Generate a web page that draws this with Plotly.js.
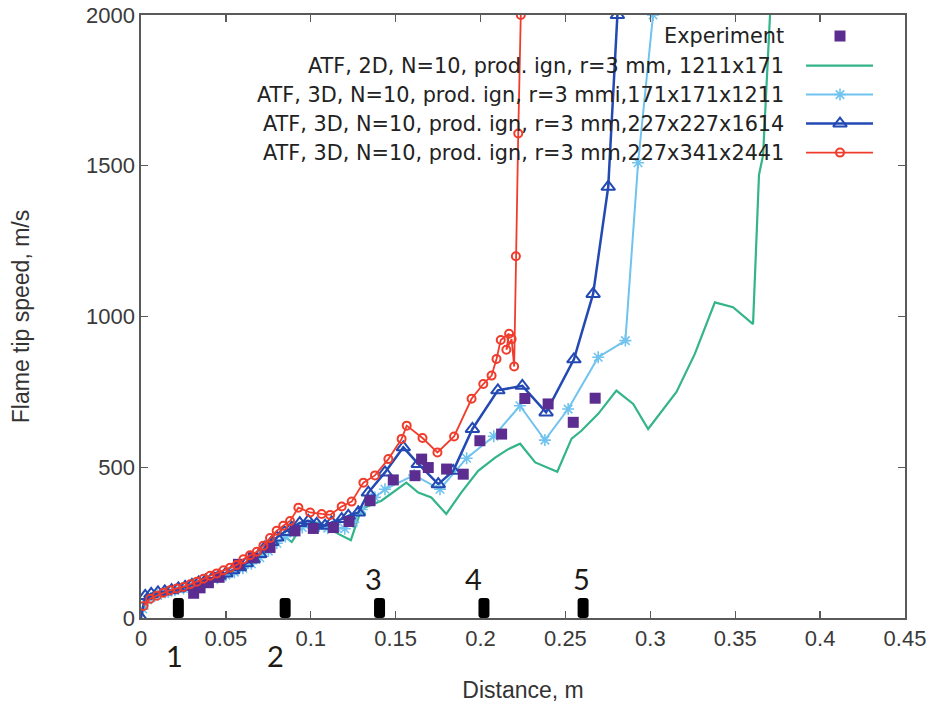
<!DOCTYPE html>
<html>
<head>
<meta charset="utf-8">
<script src="https://cdn.plot.ly/plotly-3.0.1.min.js"></script>
<style>html,body{margin:0;padding:0;background:#fff;}#chart{width:928px;height:703px;}</style>
</head>
<body>
<div id="chart"></div>
<script>
// ---------------- data ----------------
const expX = [0.031, 0.0348, 0.0397, 0.046, 0.0574, 0.066, 0.076, 0.0907, 0.1015, 0.1133, 0.1225, 0.1349, 0.1486, 0.1614, 0.1653, 0.1692, 0.18, 0.1898, 0.1996, 0.2124, 0.2261, 0.2398, 0.2546, 0.2675];
const expY = [82, 100, 117, 135, 178, 200, 234, 289, 297, 300, 320, 389, 458, 472, 527, 499, 494, 477, 588, 610, 728, 710, 649, 729];

const atf2dX = [0.001, 0.005, 0.01, 0.015, 0.02, 0.025, 0.03, 0.035, 0.04, 0.045, 0.05, 0.055, 0.06, 0.065, 0.07, 0.075, 0.08, 0.085, 0.0888, 0.093, 0.1, 0.105, 0.11, 0.1162, 0.1236, 0.1298, 0.1416, 0.1496, 0.1563, 0.1633, 0.171, 0.1798, 0.1886, 0.1986, 0.2086, 0.2163, 0.2233, 0.2322, 0.2452, 0.2536, 0.2594, 0.2693, 0.280, 0.2899, 0.2987, 0.3154, 0.3262, 0.338, 0.3487, 0.3605, 0.3640, 0.3664, 0.3705];
const atf2dY = [25, 60, 72, 82, 90, 97, 105, 112, 122, 132, 143, 155, 168, 185, 205, 225, 250, 268, 252, 290, 318, 316, 300, 279, 258, 362, 389, 422, 449, 416, 400, 345, 416, 488, 532, 560, 578, 516, 485, 595, 621, 677, 754, 710, 627, 750, 876, 1047, 1031, 975, 1470, 1535, 2000];

const atf3dSX = [0.001, 0.004, 0.008, 0.012, 0.016, 0.02, 0.025, 0.03, 0.035, 0.04, 0.045, 0.05, 0.055, 0.06, 0.065, 0.07, 0.075, 0.08, 0.085, 0.09, 0.095, 0.1, 0.105, 0.11, 0.115, 0.12, 0.125, 0.13, 0.1378, 0.1437, 0.1609, 0.1761, 0.1918, 0.2078, 0.2232, 0.2379, 0.2516, 0.2693, 0.2853, 0.2928, 0.3016];
const atf3dSY = [30, 60, 72, 80, 86, 92, 98, 106, 115, 122, 132, 142, 152, 165, 180, 200, 222, 248, 270, 288, 300, 312, 305, 298, 300, 296, 318, 360, 400, 427, 474, 427, 530, 603, 704, 590, 693, 865, 920, 1510, 2000];

const atf3dMX = [0, 0.0025, 0.006, 0.01, 0.014, 0.018, 0.022, 0.026, 0.03, 0.034, 0.038, 0.042, 0.046, 0.05, 0.054, 0.058, 0.062, 0.066, 0.07, 0.073, 0.077, 0.08, 0.0844, 0.0888, 0.0935, 0.0986, 0.1035, 0.1084, 0.1123, 0.1182, 0.1221, 0.128, 0.1339, 0.1437, 0.1545, 0.1633, 0.1751, 0.1839, 0.1952, 0.2102, 0.2246, 0.2386, 0.2550, 0.2663, 0.2752, 0.2806];
const atf3dMY = [0, 73, 80, 85, 88, 92, 98, 103, 110, 118, 125, 132, 140, 148, 158, 168, 182, 195, 212, 234, 252, 267, 285, 300, 315, 322, 312, 306, 317, 328, 339, 350, 416, 483, 566, 511, 444, 488, 627, 755, 770, 682, 858, 1075, 1430, 2000];

const atf3dFX = [0.0015, 0.0054, 0.0093, 0.0132, 0.0171, 0.021, 0.025, 0.029, 0.0329, 0.0368, 0.0407, 0.0446, 0.0486, 0.0525, 0.0564, 0.0603, 0.0642, 0.0682, 0.0721, 0.076, 0.0799, 0.0838, 0.0878, 0.0927, 0.0996, 0.1064, 0.1114, 0.1182, 0.1241, 0.131, 0.1378, 0.1457, 0.1535, 0.1565, 0.1658, 0.1746, 0.1844, 0.1947, 0.2016, 0.2065, 0.2094, 0.2119, 0.2168, 0.2152, 0.2183, 0.2198, 0.2208, 0.2222, 0.2237];
const atf3dFY = [40, 64, 74, 84, 92, 98, 103, 112, 120, 130, 140, 148, 158, 167, 176, 195, 208, 220, 240, 265, 289, 306, 322, 366, 350, 345, 342, 370, 386, 449, 473, 527, 594, 638, 597, 549, 602, 727, 776, 804, 859, 922, 943, 890, 925, 834, 1200, 1607, 2000];

const sensorX = [0.0220, 0.0849, 0.1405, 0.2020, 0.2604];
const sensorLabels = ["1", "2", "3", "4", "5"];
const sensorLabelX = [0.0200, 0.0790, 0.1370, 0.1957, 0.2597];

const legendNames = ["Experiment",
  "ATF, 2D, N=10, prod. ign, r=3 mm, 1211x171",
  "ATF, 3D, N=10, prod. ign, r=3 mmi,171x171x1211",
  "ATF, 3D, N=10, prod. ign, r=3 mm,227x227x1614",
  "ATF, 3D, N=10, prod. ign, r=3 mm,227x341x2441"];

const xTitle = "Distance, m";
const yTitle = "Flame tip speed, m/s";

// ---------------- styles ----------------
const cPurple = "#5b2d90", cGreen = "#33b48a", cLight = "#6fc3ee", cBlue = "#2349b3", cRed = "#f03c2c";
const styles = [
  {mode: "markers", marker: {symbol: "square", size: 11, color: cPurple}},
  {mode: "lines", line: {color: cGreen, width: 2.2}},
  {mode: "lines+markers", line: {color: cLight, width: 2}, marker: {symbol: "asterisk-open", size: 10, color: cLight, line: {color: "#46b0ea", width: 1.6}}},
  {mode: "lines+markers", line: {color: cBlue, width: 2.5}, marker: {symbol: "triangle-up-open", size: 12, color: cBlue, line: {color: cBlue, width: 2}}},
  {mode: "lines+markers", line: {color: cRed, width: 1.8}, marker: {symbol: "circle-open", size: 8, color: cRed, line: {color: cRed, width: 2}}}
];

const seriesX = [expX, atf2dX, atf3dSX, atf3dMX, atf3dFX];
const seriesY = [expY, atf2dY, atf3dSY, atf3dMY, atf3dFY];

const traces = [];
const order = [1, 2, 3, 0, 4];
order.forEach(i => {
  traces.push(Object.assign({type: "scatter", x: seriesX[i], y: seriesY[i], name: legendNames[i],
    showlegend: false, hoverinfo: "skip", cliponaxis: true}, JSON.parse(JSON.stringify(styles[i]))));
});

// custom legend (symbol to the right of right-aligned text), on a pixel overlay axis
const legRows = [36, 65.5, 94.5, 123.5, 152.5];
const legLineX0 = 806, legLineX1 = 873, legMarkX = 840, legTextX = 786;
const annotations = [];
legendNames.forEach((nm, i) => {
  const st = styles[i];
  if (i === 0) {
    traces.push({type: "scatter", xaxis: "x2", yaxis: "y2", x: [legMarkX], y: [legRows[i]], mode: "markers",
      marker: st.marker, showlegend: false, hoverinfo: "skip"});
  } else {
    traces.push({type: "scatter", xaxis: "x2", yaxis: "y2", x: [legLineX0, legLineX1], y: [legRows[i], legRows[i]],
      mode: "lines", line: st.line, showlegend: false, hoverinfo: "skip"});
    if (st.marker) traces.push({type: "scatter", xaxis: "x2", yaxis: "y2", x: [legMarkX], y: [legRows[i]],
      mode: "markers", marker: st.marker, showlegend: false, hoverinfo: "skip"});
  }
  annotations.push({xref: "x2", yref: "y2", x: legTextX, y: legRows[i], xanchor: "right", yanchor: "middle",
    text: nm, showarrow: false, font: {family: "DejaVu Sans, Verdana, sans-serif", size: 20.8, color: "#222"}});
});

// sensor markers & labels
const shapes = sensorX.map(sx => ({
  type: "path", xref: "x", yref: "y", xsizemode: "pixel", ysizemode: "pixel", xanchor: sx, yanchor: 0,
  path: "M -5.5,3 Q -5.5,0 -2.5,0 L 2.5,0 Q 5.5,0 5.5,3 L 5.5,17 Q 5.5,20 2.5,20 L -2.5,20 Q -5.5,20 -5.5,17 Z",
  fillcolor: "#000", line: {width: 0}, layer: "above"
}));
sensorLabels.forEach((lb, i) => {
  const below = i < 2;
  annotations.push({xref: "x", yref: below ? "paper" : "y", x: sensorLabelX[i], y: below ? -0.063 : 130, text: lb, showarrow: false,
    xanchor: "center", yanchor: "middle", font: {family: "Lato, Open Sans, sans-serif", size: 29, color: "#1d1a16"}});
});

const tickFont = {family: "Liberation Sans Narrow, Liberation Sans, Arial, sans-serif", size: 22, color: "#3a3a3a"};
const axisCommon = {showgrid: false, zeroline: false, showline: true, mirror: "ticks", linecolor: "#5a5a5a", linewidth: 1.6,
  ticks: "inside", ticklen: 7, tickwidth: 1.4, tickcolor: "#5a5a5a", tickfont: tickFont, fixedrange: true, automargin: false};

const layout = {
  width: 928, height: 703,
  margin: {l: 141, r: 23, t: 15, b: 85},
  paper_bgcolor: "#fff", plot_bgcolor: "#fff",
  showlegend: false,
  xaxis: Object.assign({}, axisCommon, {range: [0, 0.45], tick0: 0, dtick: 0.05,
    title: {text: xTitle, standoff: 32, font: {family: "Liberation Sans, Arial, sans-serif", size: 23, color: "#333"}}}),
  yaxis: Object.assign({}, axisCommon, {range: [0, 2000], tick0: 0, dtick: 500,
    title: {text: yTitle, standoff: 50, font: {family: "Liberation Sans, Arial, sans-serif", size: 23, color: "#333"}}}),
  xaxis2: {overlaying: "x", anchor: "y2", range: [141, 905], visible: false, fixedrange: true},
  yaxis2: {overlaying: "y", anchor: "x2", range: [617.5, 15], visible: false, fixedrange: true},
  shapes: shapes,
  annotations: annotations
};

Plotly.newPlot("chart", traces, layout, {staticPlot: true, displayModeBar: false});
</script>
</body>
</html>
